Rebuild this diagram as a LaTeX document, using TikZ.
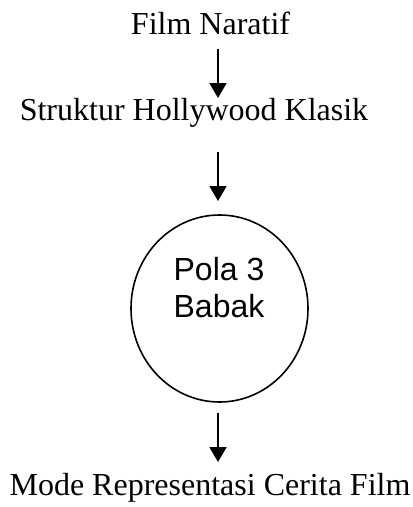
\documentclass[tikz,border=0pt]{standalone}
\usepackage{fontspec}
\setmainfont{Liberation Serif}
\setsansfont{Liberation Sans}
\usetikzlibrary{arrows.meta,shapes.geometric}
\begin{document}
\begin{tikzpicture}[x=1pt,y=-1pt,
  lbl/.style={inner sep=0pt,anchor=base,font=\fontsize{32}{37}\selectfont},
  sanslbl/.style={inner sep=0pt,anchor=base,font=\sffamily\fontsize{32}{37}\selectfont},
  arr/.style={line width=1.8pt,-{Triangle[length=15pt,width=17pt]}},
  ring/.style={draw,ellipse,line width=1.6pt,minimum width=177pt,minimum height=187pt,inner sep=0pt}]
\useasboundingbox (0,0) rectangle (413,507);
\node[lbl] (fn) at (210.5,34) {Film Naratif};
\node[lbl] (sh) at (194,120) {Struktur Hollywood Klasik};
\node[ring] (pb) at (219.5,308.5) {};
\node[sanslbl] (p1) at (219,280) {Pola 3};
\node[sanslbl] (p2) at (219,317) {Babak};
\node[lbl] (mr) at (210,495) {Mode Representasi Cerita Film};
\coordinate (a1s) at (218,49);
\coordinate (a1e) at (218,98);
\coordinate (a2s) at (218,152);
\coordinate (a2e) at (218,201);
\coordinate (a3s) at (218,413);
\coordinate (a3e) at (218,462);
\draw[arr] (a1s) -- (a1e);
\draw[arr] (a2s) -- (a2e);
\draw[arr] (a3s) -- (a3e);
\end{tikzpicture}
\end{document}
